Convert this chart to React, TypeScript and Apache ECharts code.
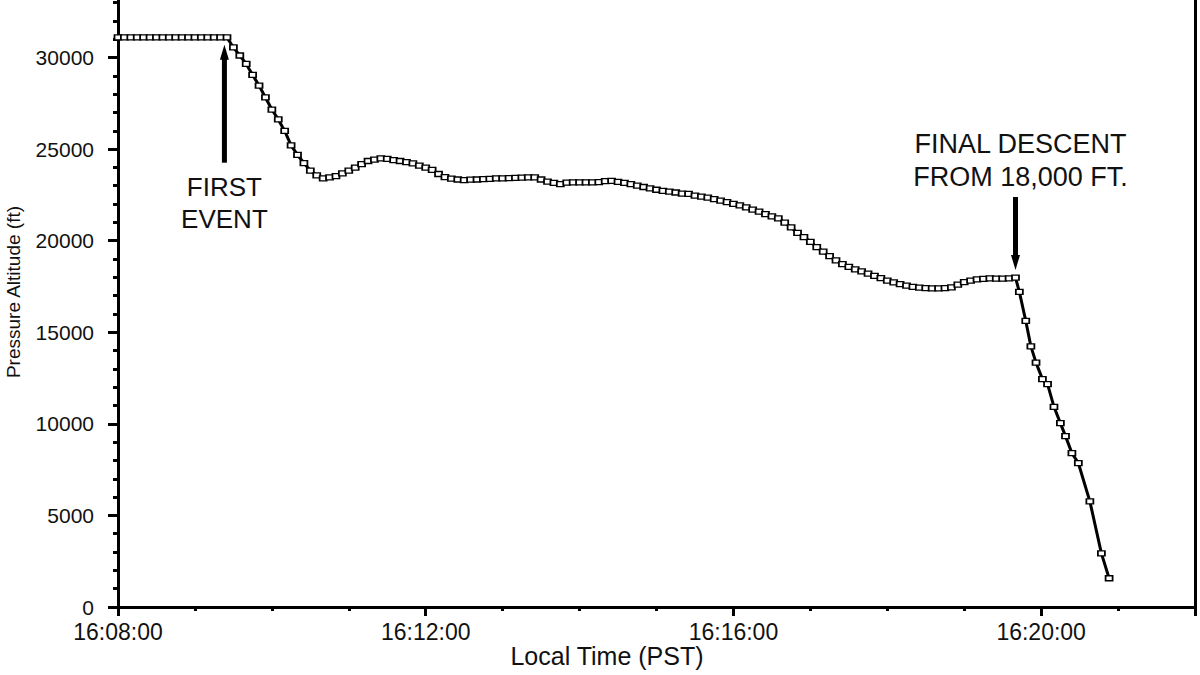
import React, { useEffect, useRef } from "react";
import * as echarts from "echarts";

// Seconds after 16:08:00 local time (PST)
const TIME_S = [
  0, 5, 10, 15, 20, 25, 30, 35, 40, 45, 50, 55, 60, 65, 70, 75, 80, 85,
  90, 95, 100, 105, 110, 115, 120, 125, 130, 135, 140, 145, 150, 155, 160, 165,
  170, 175, 180, 185, 190, 195, 200, 205, 210, 215, 220, 225, 230, 235, 240, 245,
  250, 255, 260, 265, 270, 275, 280, 285, 290, 295, 300, 305, 310, 315, 320, 325,
  330, 335, 340, 345, 350, 355, 360, 365, 370, 375, 380, 385, 390, 395, 400, 405,
  410, 415, 420, 425, 430, 435, 440, 445, 450, 455, 460, 465, 470, 475, 480, 485,
  490, 495, 500, 505, 510, 515, 520, 525, 530, 535, 540, 545, 550, 555, 560, 565,
  570, 575, 580, 585, 590, 595, 600, 605, 610, 615, 620, 625, 630, 635, 640, 645,
  650, 655, 660, 665, 670, 675, 680, 685, 690, 695, 700,
  703, 708, 712, 716, 721, 725, 730, 735, 739, 744, 749, 758, 767, 773,
];

// Pressure altitude (ft)
const ALTITUDE_FT = [
  31100, 31100, 31100, 31100, 31100, 31100, 31100, 31100, 31100, 31100, 31100, 31100, 31100, 31100, 31100, 31100, 31100, 31100,
  30550, 30110, 29650, 29050, 28470, 27820, 27160, 26620, 25990, 25200, 24680, 24240, 23830, 23560, 23400, 23450,
  23530, 23670, 23830, 23990, 24180, 24350, 24430, 24490, 24470, 24400, 24350, 24290, 24220, 24100, 23990, 23860,
  23640, 23470, 23390, 23340, 23310, 23330, 23340, 23360, 23380, 23400, 23400, 23420, 23430, 23440, 23450, 23450,
  23340, 23230, 23150, 23090, 23170, 23180, 23180, 23180, 23180, 23200, 23250, 23270, 23210, 23150, 23090, 23010,
  22930, 22860, 22780, 22720, 22680, 22630, 22570, 22550, 22460, 22410, 22350, 22270, 22190, 22110, 22010, 21930,
  21820, 21700, 21580, 21450, 21330, 21220, 20990, 20720, 20430, 20200, 19940, 19650, 19400, 19160, 18930, 18720,
  18570, 18430, 18320, 18200, 18080, 17960, 17820, 17720, 17630, 17550, 17480, 17440, 17410, 17390, 17390, 17410,
  17450, 17600, 17740, 17820, 17890, 17910, 17940, 17930, 17930, 17940, 17980,
  17210, 15620, 14230, 13340, 12440, 12170, 10930, 10040, 9330, 8400, 7860, 5770, 2930, 1570,
];

const X_TICKS_S = [0, 240, 480, 720]; // 16:08, 16:12, 16:16, 16:20
const Y_TICKS_FT = [0, 5000, 10000, 15000, 20000, 25000, 30000];
const Y_MINOR_TICKS_FT = [
  1000, 2000, 3000, 4000, 6000, 7000, 8000, 9000, 11000, 12000, 13000, 14000,
  16000, 17000, 18000, 19000, 21000, 22000, 23000, 24000, 26000, 27000, 28000, 29000,
  31000, 32000, 33000,
];
const Y_MAX_FT = 33140; // top edge of the visible plot

const FIRST_EVENT_AT = [83, 30700];
const FINAL_DESCENT_AT = [700, 18400];
const FIRST_EVENT_TEXT = "FIRST\nEVENT";
const FINAL_DESCENT_TEXT = "FINAL DESCENT\nFROM 18,000 FT.";

const X_TITLE = "Local Time (PST)";
const Y_TITLE = "Pressure Altitude (ft)";

const BASE_S = 16 * 3600 + 8 * 60;
const FONT = "'Liberation Sans', Arial, Helvetica, sans-serif";
const INK = "#111";

function fmtTime(s: number): string {
  const t = BASE_S + s;
  const h = Math.floor(t / 3600);
  const m = Math.floor((t % 3600) / 60);
  const sec = Math.round(t % 60);
  const p = (n: number) => String(n).padStart(2, "0");
  return `${p(h)}:${p(m)}:${p(sec)}`;
}

export default function App() {
  const ref = useRef<HTMLDivElement>(null);

  useEffect(() => {
    if (!ref.current) return;
    const chart = echarts.init(ref.current, null, { renderer: "svg" });
    const data = TIME_S.map((t, i) => [t, ALTITUDE_FT[i]]);
    const axisLineStyle = { color: "#000", width: 3 };

    chart.setOption({
      animation: false,
      backgroundColor: "#ffffff",
      grid: { left: 118, right: 5, top: 0, bottom: 68, show: false },
      xAxis: {
        type: "value",
        min: 0,
        max: 840,
        interval: 240,
        axisLine: { show: true, onZero: false, lineStyle: axisLineStyle },
        axisTick: { show: true, inside: false, length: 9, lineStyle: axisLineStyle },
        minorTick: { show: true, splitNumber: 4, length: 4, lineStyle: axisLineStyle },
        splitLine: { show: false },
        minorSplitLine: { show: false },
        axisLabel: {
          margin: 13,
          fontSize: 23,
          fontFamily: FONT,
          color: INK,
          showMaxLabel: false,
          formatter: (v: number) => (X_TICKS_S.includes(v) ? fmtTime(v) : ""),
        },
      },
      yAxis: [
        {
          type: "value",
          min: 0,
          max: Y_MAX_FT,
          position: "left",
          axisLine: { show: true, onZero: false, lineStyle: axisLineStyle },
          axisTick: { show: true, inside: false, length: 10, customValues: Y_TICKS_FT, lineStyle: axisLineStyle },
          splitLine: { show: false },
          axisLabel: {
            margin: 24,
            fontSize: 21,
            fontFamily: FONT,
            color: INK,
            customValues: Y_TICKS_FT,
            formatter: (v: number) => String(v),
          },
        },
        {
          type: "value",
          min: 0,
          max: Y_MAX_FT,
          position: "left",
          axisLine: { show: false, onZero: false },
          axisTick: { show: true, inside: false, length: 5, customValues: Y_MINOR_TICKS_FT, lineStyle: axisLineStyle },
          splitLine: { show: false },
          axisLabel: { show: false },
        },
        {
          type: "value",
          min: 0,
          max: Y_MAX_FT,
          position: "right",
          axisLine: { show: true, onZero: false, lineStyle: axisLineStyle },
          axisTick: { show: false },
          splitLine: { show: false },
          axisLabel: { show: false },
        },
      ],
      series: [
        {
          type: "line",
          data,
          yAxisIndex: 0,
          showAllSymbol: true,
          symbol: "rect",
          symbolSize: [7, 5],
          lineStyle: { color: "#000", width: 3 },
          itemStyle: { color: "#ffffff", borderColor: "#000", borderWidth: 1.5 },
          emphasis: { disabled: true },
          clip: false,
        },
      ],
    });

    const p1 = chart.convertToPixel({ xAxisIndex: 0, yAxisIndex: 0 }, FIRST_EVENT_AT) as number[];
    const p2 = chart.convertToPixel({ xAxisIndex: 0, yAxisIndex: 0 }, FINAL_DESCENT_AT) as number[];

    const arrow = (x: number, tipY: number, len: number) => [
      {
        type: "line",
        shape: { x1: x, y1: tipY + 10, x2: x, y2: tipY + len },
        style: { stroke: "#000", lineWidth: 5 },
      },
      {
        type: "polygon",
        shape: { points: [[x, tipY], [x - 4.5, tipY + 15], [x + 4.5, tipY + 15]] },
        style: { fill: "#000" },
      },
    ];
    const arrowDown = (x: number, tipY: number, len: number) => [
      {
        type: "line",
        shape: { x1: x, y1: tipY - 10, x2: x, y2: tipY - len },
        style: { stroke: "#000", lineWidth: 5 },
      },
      {
        type: "polygon",
        shape: { points: [[x, tipY], [x - 4.5, tipY - 15], [x + 4.5, tipY - 15]] },
        style: { fill: "#000" },
      },
    ];

    chart.setOption({
      graphic: [
        ...arrow(p1[0], p1[1], 118),
        ...arrowDown(p2[0], p2[1], 73),
        {
          type: "text",
          x: p1[0],
          y: p1[1] + 158,
          style: {
            text: FIRST_EVENT_TEXT,
            fontSize: 26,
            fontFamily: FONT,
            fill: INK,
            align: "center",
            verticalAlign: "middle",
            lineHeight: 32,
          },
        },
        {
          type: "text",
          x: p2[0] + 5,
          y: p2[1] - 109,
          style: {
            text: FINAL_DESCENT_TEXT,
            fontSize: 27,
            fontFamily: FONT,
            fill: INK,
            align: "center",
            verticalAlign: "middle",
            lineHeight: 33,
          },
        },
        {
          type: "text",
          x: 607,
          y: 656,
          style: {
            text: X_TITLE,
            fontSize: 25,
            fontFamily: FONT,
            fill: INK,
            align: "center",
            verticalAlign: "middle",
          },
        },
        {
          type: "text",
          x: 13,
          y: 292,
          rotation: Math.PI / 2,
          style: {
            text: Y_TITLE,
            fontSize: 19,
            fontFamily: FONT,
            fill: INK,
            align: "center",
            verticalAlign: "middle",
          },
        },
      ],
    });

    return () => chart.dispose();
  }, []);

  return (
    <div
      ref={ref}
      style={{ position: "absolute", left: 0, top: 0, width: 1200, height: 675, background: "#fff" }}
    />
  );
}
